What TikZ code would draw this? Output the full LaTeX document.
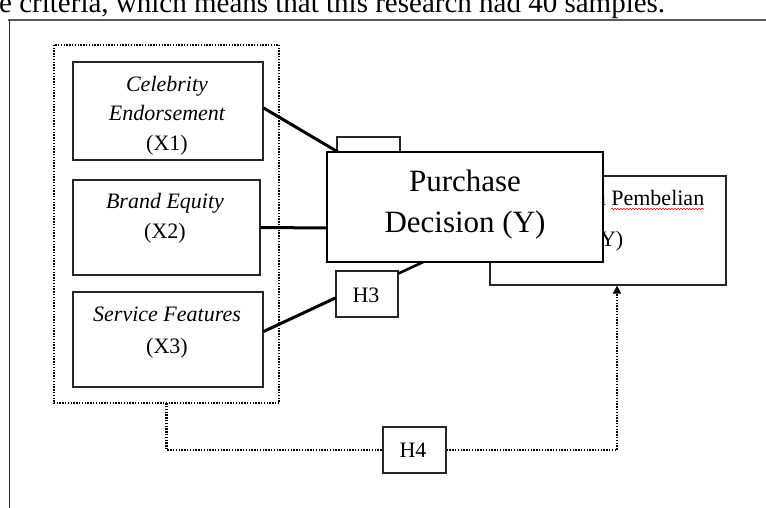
\documentclass[tikz,border=0pt]{standalone}
\usepackage{fontspec}
\setmainfont{Liberation Serif}
\usetikzlibrary{arrows.meta,decorations.pathmorphing}
\begin{document}
\begin{tikzpicture}[x=1pt,y=-1pt,
  vbox/.style={draw=black!85,line width=1.2pt,inner sep=0pt,fill=white},
  mainbox/.style={draw=black,line width=2.2pt,inner sep=0pt,fill=white},
  dotline/.style={line width=2.2pt,dash pattern=on 1.4pt off 1.4pt,black},
  conn/.style={line width=3pt,black},
  vt/.style={inner sep=0pt,anchor=base,font=\fontsize{22}{26}\selectfont},
  bigt/.style={inner sep=0pt,anchor=base,font=\fontsize{31}{36}\selectfont},
  topt/.style={inner sep=0pt,anchor=base west,font=\fontsize{29}{34}\selectfont},
]
\useasboundingbox (0,0) rectangle (766,508);

% page frame and cut-off text
\node[topt] (toptext) at (-1,13) {e criteria, which means that this research had 40 samples.};
\coordinate (fa) at (8,20);
\coordinate (fb) at (766,20);
\coordinate (fc) at (9,508);
\draw[black!65,line width=2.2pt] (fa) -- (fb);
\draw[black!85,line width=1pt] ([xshift=1pt]fa) -- (fc);

% dotted group
\node[draw=none,minimum width=225pt,minimum height=358pt,inner sep=0pt] (grp) at (166.5,224) {};
\draw[dotline] (grp.north west) rectangle (grp.south east);

% independent variable boxes
\node[vbox,minimum width=190pt,minimum height=98pt] (x1) at (168,111) {};
\node[vt] (x1a) at (167,92) {\itshape Celebrity};
\node[vt] (x1b) at (167,121) {\itshape Endorsement};
\node[vt] (x1c) at (167,150) {(X1)};

\node[vbox,minimum width=187pt,minimum height=95pt] (x2) at (166.5,227.5) {};
\node[vt] (x2a) at (165,208) {\itshape Brand Equity};
\node[vt] (x2b) at (165,238) {(X2)};

\node[vbox,minimum width=190pt,minimum height=95pt] (x3) at (168,339.5) {};
\node[vt] (x3a) at (167,321) {\itshape Service Features};
\node[vt] (x3b) at (167,353) {(X3)};

% dependent variable box (behind)
\node[vbox,minimum width=236pt,minimum height=109pt] (kp) at (608,230.5) {};
\node[vt] (kpa) at (608,205) {Keputusan Pembelian};
\node[vt] (kpb) at (608,246) {(Y)};
\draw[red,line width=0.6pt,decorate,decoration={snake,amplitude=0.8pt,segment length=3pt}] (611,209) -- (704,209);

% hypothesis boxes
\node[vbox,minimum width=63pt,minimum height=46pt] (h1) at (368.5,160) {};
\node[vt] (h1t) at (368,168) {H1};
\node[vbox,minimum width=62pt,minimum height=46pt] (h3) at (367,294) {};
\node[vt] (h3t) at (366,302) {H3};
\node[vbox,minimum width=63pt,minimum height=46pt] (h4) at (414.5,450) {};
\node[vt] (h4t) at (413,457.5) {H4};

% connectors
\coordinate (c1) at (338,152);
\coordinate (c2) at (327,228);
\draw[conn] ([yshift=3pt]x1.east) -- (c1);
\draw[conn] (x2.east) -- (c2);
\draw[conn] ([yshift=8pt]x3.east) -- ([yshift=-4pt]h3.west);

% foreground box
\node[mainbox,minimum width=276pt,minimum height=110pt] (pd) at (465,207) {};
\node[bigt] (pda) at (465,192) {Purchase};
\node[bigt] (pdb) at (465,232) {Decision (Y)};

\draw[conn,line width=2.6pt] ([yshift=-3pt]h3.north east) -- ([xshift=-42pt,yshift=1pt]pd.south);

% H4 path
\draw[dotline] (grp.south) |- (h4.west);
\draw[dotline,-{Triangle[width=8pt,length=8pt]}] (h4.east) -| ([xshift=9pt]kp.south);
\end{tikzpicture}
\end{document}
